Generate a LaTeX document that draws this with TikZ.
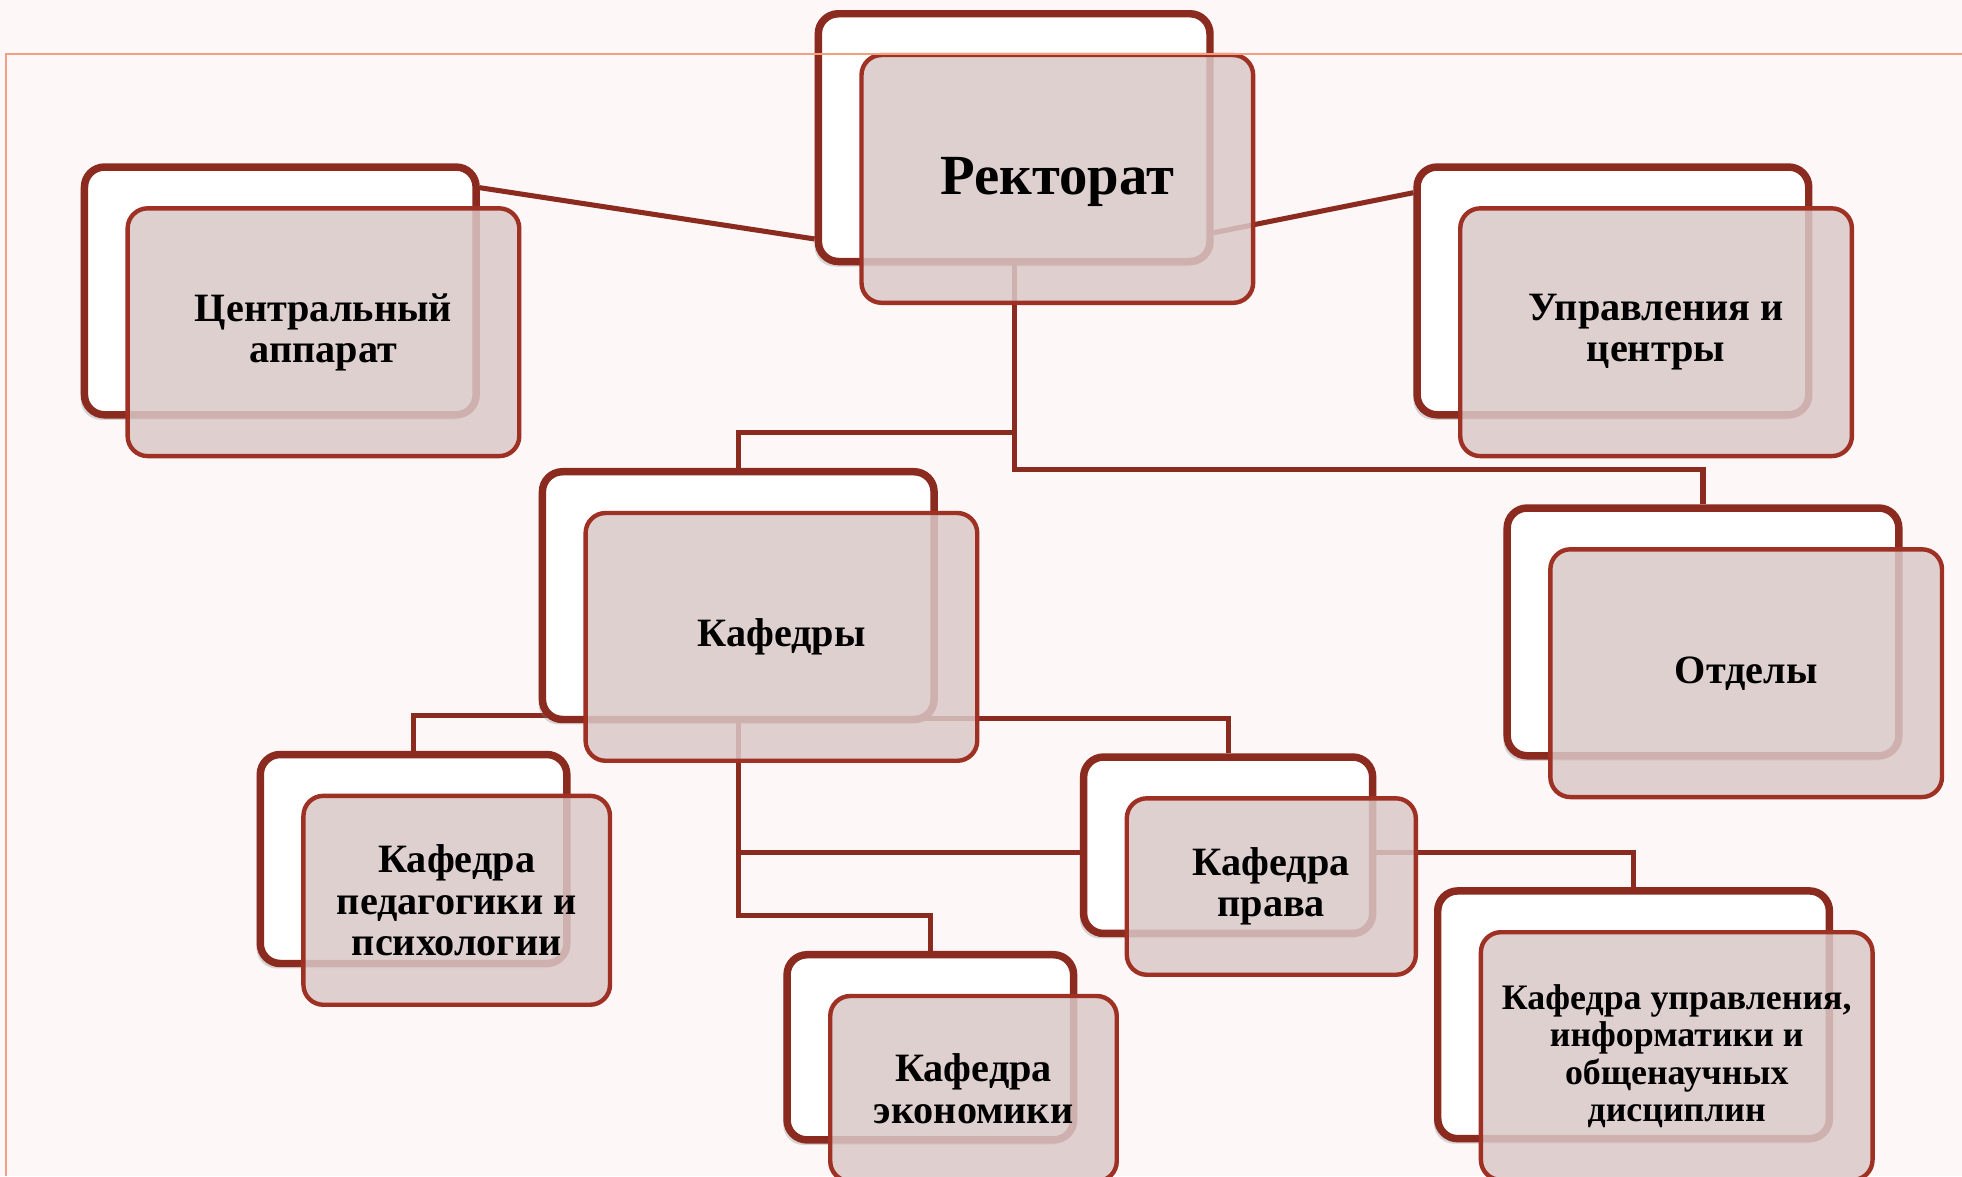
\documentclass[tikz,border=0pt]{standalone}
\usepackage{fontspec}
\setmainfont{Liberation Serif}
\usepackage{tikz}
\usetikzlibrary{positioning, shadows, calc}
\definecolor{darkred}{HTML}{8B2A1E}
\definecolor{boxred}{HTML}{9E3124}
\definecolor{boxfill}{HTML}{DAC8C8}
\definecolor{slidebg}{HTML}{FDF7F7}
\definecolor{frameline}{HTML}{F2A080}
\pgfdeclarelayer{bg}
\pgfdeclarelayer{wires}
\pgfdeclarelayer{fg}
\pgfsetlayers{bg,wires,main,fg}
\tikzstyle{backbox} = [rectangle, rounded corners=0.32cm, minimum width=6.26cm, minimum height=3.96cm, draw=darkred, line width=3.4pt, fill=white, drop shadow={shadow xshift=-0.06cm, shadow yshift=-0.08cm, opacity=0.3}]
\tikzstyle{frontbox} = [rectangle, rounded corners=0.32cm, minimum width=6.26cm, minimum height=3.96cm, draw=boxred, line width=2pt, fill=boxfill, fill opacity=0.85, text opacity=1, text centered, align=center, font=\bfseries\fontsize{18.3}{18.8}\selectfont]
\tikzstyle{conn} = [draw=darkred, line width=2.3pt]

\begin{document}
\begin{tikzpicture}[node distance=0.8cm]
    % Slide
    \begin{pgfonlayer}{bg}
        \fill[slidebg] (0,0) rectangle (31.36,-18.8);
    \end{pgfonlayer}
    \useasboundingbox (0,0) rectangle (31.36,-18.8);

    % Rectorate
    \node (rekB) [backbox] at (16.21,-2.20) {};
    \node (rek) [frontbox, font=\bfseries\fontsize{25.8}{27}\selectfont, text depth=0.5ex] at ($(rekB)+(0.69,-0.66)$) {Ректорат};

    % Central office
    \node (centrB) [backbox] at (4.48,-4.65) {};
    \node (centr) [frontbox] at ($(centrB)+(0.69,-0.66)$) {Центральный\\аппарат};

    % Directorates
    \node (upravB) [backbox] at (25.78,-4.65) {};
    \node (uprav) [frontbox] at ($(upravB)+(0.69,-0.66)$) {Управления и\\центры};

    % Chairs
    \node (kafB) [backbox] at (11.80,-9.52) {};
    \node (kaf) [frontbox] at ($(kafB)+(0.69,-0.66)$) {Кафедры};

    % Departments
    \node (otdB) [backbox] at (27.22,-10.10) {};
    \node (otd) [frontbox] at ($(otdB)+(0.69,-0.66)$) {Отделы};

    % Pedagogy
    \node (pedB) [backbox, minimum width=4.90cm, minimum height=3.34cm] at (6.61,-13.73) {};
    \node (ped) [frontbox, minimum width=4.90cm, minimum height=3.34cm] at ($(pedB)+(0.69,-0.66)$) {Кафедра\\педагогики и\\психологии};

    % Economics
    \node (ekonB) [backbox, minimum width=4.58cm, minimum height=2.96cm] at (14.87,-16.74) {};
    \node (ekon) [frontbox, minimum width=4.58cm, minimum height=2.96cm] at ($(ekonB)+(0.69,-0.66)$) {Кафедра\\экономики};

    % Law
    \node (pravB) [backbox, minimum width=4.62cm, minimum height=2.82cm] at (19.63,-13.51) {};
    \node (prav) [frontbox, minimum width=4.62cm, minimum height=2.82cm] at ($(pravB)+(0.69,-0.66)$) {Кафедра\\права};

    % Management
    \node (ukafB) [backbox] at (26.11,-16.22) {};
    \node (ukaf) [frontbox, font=\bfseries\fontsize{16.3}{17.1}\selectfont] at ($(ukafB)+(0.69,-0.66)$) {Кафедра управления,\\информатики и\\общенаучных\\дисциплин};

    % Lines
    \begin{pgfonlayer}{wires}
        \draw [conn] ([yshift=-0.39cm]centrB.north east) -- ([yshift=0.42cm]rekB.south west);
        \draw [conn] ([yshift=0.52cm]rekB.south east) -- ([yshift=-0.47cm]upravB.north west);
        \draw [conn] (rekB.south) |- ([yshift=0.56cm]kafB.north) -- (kafB.north);
        \draw [conn] (rekB.south) |- ([yshift=0.56cm]otdB.north) -- (otdB.north);
        \draw [conn] (kafB.south) |- ([yshift=0.56cm]pedB.north) -- (pedB.north);
        \draw [conn] (kafB.south) |- ([yshift=0.56cm]pravB.north) -- (pravB.north);
        \draw [conn] (kafB.south) |- ([yshift=0.56cm]ekonB.north) -- (ekonB.north);
        \draw [conn] (kafB.south) |- ([yshift=0.56cm]ukafB.north) -- (ukafB.north);
    \end{pgfonlayer}

    % Frame
    \begin{pgfonlayer}{fg}
        \draw [frameline, line width=0.9pt] (0.10,-18.8) -- (0.10,-0.86) -- (31.36,-0.86);
    \end{pgfonlayer}
\end{tikzpicture}
\end{document}
